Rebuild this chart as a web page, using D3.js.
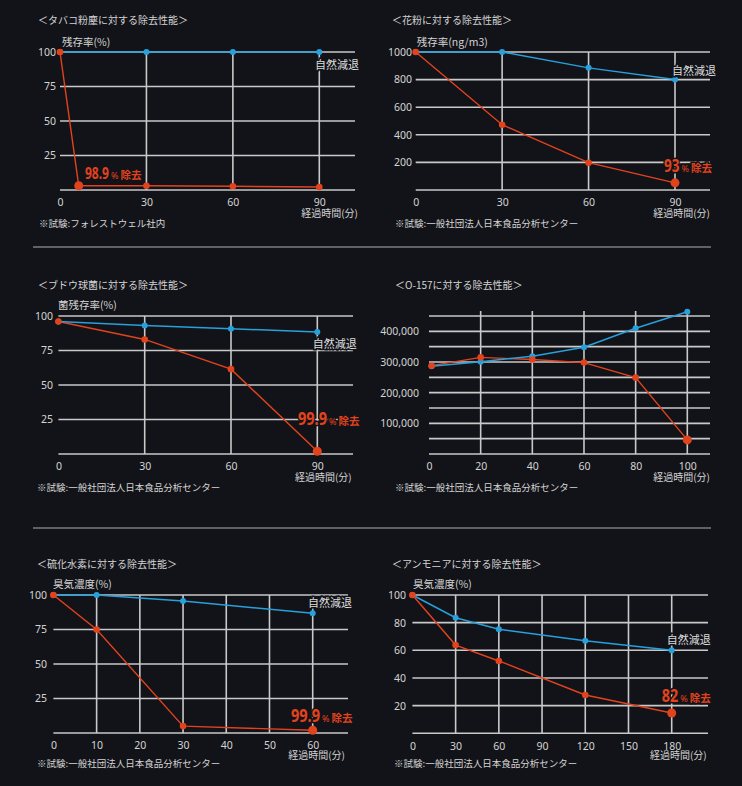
<!DOCTYPE html>
<html><head><meta charset="utf-8">
<script src="https://cdn.jsdelivr.net/npm/d3@7"></script>
<style>
body{margin:0;background:#121318;}
svg{display:block;}
text{font-family:"Noto Sans CJK JP","Noto Sans",sans-serif;}
</style></head>
<body><svg id="c" width="742" height="786"></svg>
<script>
// ---------- DATA ----------
const titles = ["＜タバコ粉塵に対する除去性能＞","＜花粉に対する除去性能＞","＜ブドウ球菌に対する除去性能＞",
  "＜O-157に対する除去性能＞","＜硫化水素に対する除去性能＞","＜アンモニアに対する除去性能＞"];
const yTitles = ["残存率(%)","残存率(ng/m3)","菌残存率(%)","","臭気濃度(%)","臭気濃度(%)"];
const footnotes = ["※試験:フォレストウェル社内","※試験:一般社団法人日本食品分析センター","※試験:一般社団法人日本食品分析センター",
  "※試験:一般社団法人日本食品分析センター","※試験:一般社団法人日本食品分析センター","※試験:一般社団法人日本食品分析センター"];
const removalNumbers = ["98.9","93","99.9",null,"99.9","82"];
const naturalLabel = "自然減退";
const removalSuffix = "除去";
const xAxisTitle = "経過時間(分)";

// tobacco dust
const tobaccoNaturalX = [0,30,60,90];
const tobaccoNatural  = [100,100,100,100];
const tobaccoDeviceX  = [0,6.5,30,60,90];
const tobaccoDevice   = [100,3.1,3.1,2.7,2.2];
const tobaccoXTicks = [0,30,60,90];
const tobaccoYTicks = [25,50,75,100];

// pollen
const pollenX = [0,30,60,90];
const pollenNatural = [1000,1000,885,800];
const pollenDevice  = [1000,473,198,52];
const pollenXTicks = [0,30,60,90];
const pollenYTicks = [200,400,600,800,1000];

// staphylococcus
const staphX = [0,30,60,90];
const staphNatural = [96,93.2,90.8,88.4];
const staphDevice  = [96,83,61.5,2];
const staphXTicks = [0,30,60,90];
const staphYTicks = [25,50,75,100];

// O-157
const o157X = [1,20,40,60,80,100];
const o157Natural = [286000,301000,319000,348000,410000,464000];
const o157Device  = [288000,315000,308000,298000,249000,46000];
const o157XTicks = [0,20,40,60,80,100];
const o157YGrid  = [50000,100000,150000,200000,250000,300000,350000,400000,450000];
const o157YTicks = [100000,200000,300000,400000];

// hydrogen sulfide
const h2sX = [0,10,30,60];
const h2sNatural = [100,100,95.7,86.7];
const h2sDevice  = [100,75,5,2];
const h2sXTicks = [0,10,20,30,40,50,60];
const h2sYTicks = [25,50,75,100];

// ammonia
const ammoniaX = [0,30,60,120,180];
const ammoniaNatural = [100,83.6,75.2,66.9,60];
const ammoniaDevice  = [100,63.8,52.3,27.7,14.7];
const ammoniaXTicks = [0,30,60,90,120,150,180];
const ammoniaYTicks = [20,40,60,80,100];

// ---------- LAYOUT ----------
const panels = [
 {i:0, ox:38, titleY:20, xDom:[0,90], xR:[60,319.3], yDom:[0,100], yR:[190,52], right:355,
  xTicks:tobaccoXTicks, yGrid:tobaccoYTicks, yTicks:tobaccoYTicks, yFmt:d3.format("d"), yLabR:56,
  nat:{x:tobaccoNaturalX,y:tobaccoNatural}, dev:{x:tobaccoDeviceX,y:tobaccoDevice}, bigIdx:1,
  yTitlePos:[62,45.5], natPos:[315,64], remPos:[85,173], remLen:24, remFs:16, fnPos:[39,226.5], xtPos:[358,216.5]},
 {i:1, ox:392, titleY:20, xDom:[0,90], xR:[415.7,675], yDom:[0,1000], yR:[190,52], right:710,
  xTicks:pollenXTicks, yGrid:pollenYTicks, yTicks:pollenYTicks, yFmt:d3.format("d"), yLabR:412,
  nat:{x:pollenX,y:pollenNatural}, dev:{x:pollenX,y:pollenDevice}, bigIdx:3,
  yTitlePos:[416.7,45.5], natPos:[672,70], remPos:[664,166], remLen:15.5, remFs:18, fnPos:[395,226.5], xtPos:[710,216.5]},
 {i:2, ox:38, titleY:285, xDom:[0,90], xR:[58.4,317.3], yDom:[0,100], yR:[454,316], right:353,
  xTicks:staphXTicks, yGrid:staphYTicks, yTicks:staphYTicks, yFmt:d3.format("d"), yLabR:53,
  nat:{x:staphX,y:staphNatural}, dev:{x:staphX,y:staphDevice}, bigIdx:3,
  yTitlePos:[58,309], natPos:[312.7,343.3], remPos:[298,419], remLen:29, remFs:18, fnPos:[37,491], xtPos:[351.7,481]},
 {i:3, ox:395, titleY:285, xDom:[0,100], xR:[429,687.3], yDom:[0,450000], yR:[454,316], right:710,
  xTicks:o157XTicks, yGrid:o157YGrid, yTicks:o157YTicks, yFmt:d3.format(","), yLabR:419,
  nat:{x:o157X,y:o157Natural}, dev:{x:o157X,y:o157Device}, bigIdx:5,
  yTitlePos:null, natPos:null, remPos:null, fnPos:[395,491], xtPos:[710,481]},
 {i:4, ox:37, titleY:564, xDom:[0,60], xR:[53.4,312.7], yDom:[0,100], yR:[733,595], right:348,
  xTicks:h2sXTicks, yGrid:h2sYTicks, yTicks:h2sYTicks, yFmt:d3.format("d"), yLabR:47,
  nat:{x:h2sX,y:h2sNatural}, dev:{x:h2sX,y:h2sDevice}, bigIdx:3,
  yTitlePos:[53,588], natPos:[308,602.7], remPos:[291,715.7], remLen:29, remFs:18, fnPos:[37,766.5], xtPos:[345,759]},
 {i:5, ox:392, titleY:564, xDom:[0,180], xR:[412.4,671.7], yDom:[0,100], yR:[733.3,595], right:708,
  xTicks:ammoniaXTicks, yGrid:ammoniaYTicks, yTicks:ammoniaYTicks, yFmt:d3.format("d"), yLabR:406,
  nat:{x:ammoniaX,y:ammoniaNatural}, dev:{x:ammoniaX,y:ammoniaDevice}, bigIdx:4,
  yTitlePos:[413,587.5], natPos:[666.7,639.3], remPos:[661.7,695.7], remLen:16.5, remFs:18, fnPos:[394,767], xtPos:[706.7,759]}
];

const BG = "#121318", BLUE = "#27a0db", RED = "#e2431d", GRID = "#c9c9c9", TXT = "#d4d4d4";
const svg = d3.select("#c");
svg.append("rect").attr("width",742).attr("height",786).attr("fill",BG);

// separators
svg.selectAll(".sep").data([247,528]).join("line").attr("class","sep")
  .attr("x1",33).attr("x2",711).attr("y1",d=>d).attr("y2",d=>d)
  .attr("stroke","#7d7d7d").attr("stroke-width",1.5);

function drawPanel(p){
  const x = d3.scaleLinear().domain(p.xDom).range(p.xR);
  const y = d3.scaleLinear().domain(p.yDom).range(p.yR);
  const g = svg.append("g");
  const x0 = x(p.xDom[0]), y0 = y(0);
  const yTop = y(d3.max(p.yGrid));

  // title
  g.append("text").attr("x",p.ox).attr("y",p.titleY+4).attr("font-size",10).attr("fill",TXT).text(titles[p.i]);

  // horizontal grid (incl baseline)
  g.selectAll(".hg").data([0].concat(p.yGrid)).join("line")
    .attr("x1",x0).attr("x2",p.right).attr("y1",d=>y(d)).attr("y2",d=>y(d))
    .attr("stroke",GRID).attr("stroke-width",1.6);
  // vertical grid
  g.selectAll(".vg").data(p.xTicks.filter(d=>d!==p.xDom[0])).join("line")
    .attr("x1",d=>x(d)).attr("x2",d=>x(d)).attr("y1",yTop-(p.i===3?5:0)).attr("y2",y0)
    .attr("stroke",GRID).attr("stroke-width",1.6);

  // y axis labels
  const ya = g.append("g").attr("transform",`translate(${p.yLabR},0)`)
    .call(d3.axisLeft(y).tickValues(p.yTicks).tickSize(0).tickPadding(0).tickFormat(p.yFmt));
  ya.select(".domain").remove();
  ya.selectAll("text").attr("fill",TXT).attr("font-size",10.5).style("font-family","'Noto Sans',sans-serif");

  // x axis labels
  const xa = g.append("g").attr("transform",`translate(0,${y0})`)
    .call(d3.axisBottom(x).tickValues(p.xTicks).tickSize(0).tickPadding(9).tickFormat(d3.format("d")));
  xa.select(".domain").remove();
  xa.selectAll("text").attr("fill",TXT).attr("font-size",10.5).style("font-family","'Noto Sans',sans-serif");

  // x axis title
  g.append("text").attr("x",p.xtPos[0]).attr("y",p.xtPos[1]).attr("text-anchor","end")
    .attr("font-size",10).attr("fill",TXT).text(xAxisTitle);
  // footnote
  g.append("text").attr("x",p.fnPos[0]).attr("y",p.fnPos[1]).attr("font-size",9.5).attr("fill",TXT).text(footnotes[p.i]);
  // y title
  if(p.yTitlePos) g.append("text").attr("x",p.yTitlePos[0]).attr("y",p.yTitlePos[1])
    .attr("font-size",10.5).attr("fill",TXT).text(yTitles[p.i]);

  // series
  const line = d3.line().x(d=>x(d[0])).y(d=>y(d[1]));
  const nat = p.nat.x.map((v,k)=>[v,p.nat.y[k]]);
  const dev = p.dev.x.map((v,k)=>[v,p.dev.y[k]]);
  g.append("path").datum(dev).attr("d",line).attr("fill","none").attr("stroke",RED).attr("stroke-width",1.4);
  g.append("path").datum(nat).attr("d",line).attr("fill","none").attr("stroke",BLUE).attr("stroke-width",1.5);
  g.selectAll(".nd").data(nat).join("circle").attr("cx",d=>x(d[0])).attr("cy",d=>y(d[1])).attr("r",3).attr("fill",BLUE);
  g.selectAll(".dd").data(dev).join("circle").attr("cx",d=>x(d[0])).attr("cy",d=>y(d[1]))
    .attr("r",(d,k)=>k===p.bigIdx?4.5:3.3).attr("fill",RED);

  // natural label
  if(p.natPos){
    g.append("text").attr("x",p.natPos[0]).attr("y",p.natPos[1]+4.5).attr("font-size",11)
      .attr("fill","#dcdcdc").attr("stroke",BG).attr("stroke-width",3).attr("paint-order","stroke")
      .text(naturalLabel);
  }
  // removal label (condensed number via horizontal scaling)
  if(p.remPos){
    const by = p.remPos[1] + p.remFs*0.36;
    const ng = g.append("g");
    const nt = ng.append("text").attr("x",0).attr("y",0)
      .attr("font-size",p.remFs).attr("font-weight","bold").attr("fill",RED)
      .attr("stroke",BG).attr("stroke-width",3).attr("paint-order","stroke")
      .style("font-family","'Noto Sans',sans-serif").text(removalNumbers[p.i]);
    const natW = nt.node().getComputedTextLength() || p.remLen;
    const sx = p.remLen / natW;
    ng.attr("transform",`translate(${p.remPos[0]},${by}) scale(${sx},1)`);
    const xe = p.remPos[0] + p.remLen + 2;
    g.append("text").attr("x",xe).attr("y",by).attr("font-size",9).attr("fill",RED)
      .attr("stroke",BG).attr("stroke-width",3).attr("paint-order","stroke")
      .style("font-family","'Noto Sans',sans-serif").text("%");
    g.append("text").attr("x",xe+9.5).attr("y",by).attr("font-size",10.5).attr("font-weight","bold").attr("fill",RED)
      .attr("stroke",BG).attr("stroke-width",3).attr("paint-order","stroke").text(removalSuffix);
  }
}
panels.forEach(drawPanel);
</script>
</body></html>
